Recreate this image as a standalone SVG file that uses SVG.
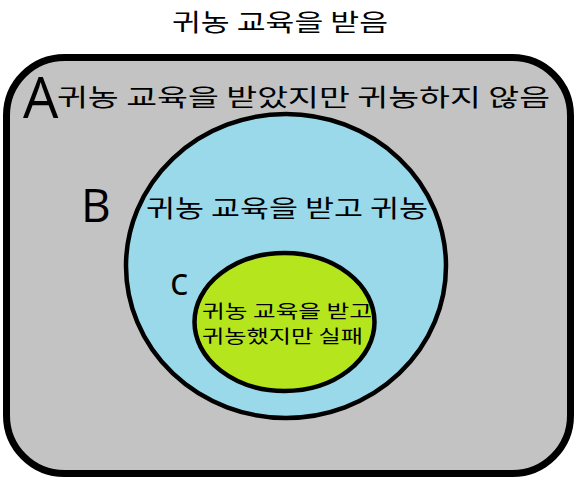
<svg xmlns="http://www.w3.org/2000/svg" width="578" height="481" viewBox="0 0 578 481">
<style>
.t{font-family:"Noto Sans CJK KR","Noto Sans",sans-serif;fill:#000}
.l{font-family:"Open Sans","DejaVu Sans",sans-serif;fill:#000}
.s{stroke:#000;stroke-width:4.5}
</style>
<rect width="578" height="481" fill="#fff"/>
<text class="t" x="280" y="31" font-size="24" text-anchor="middle" textLength="216" lengthAdjust="spacingAndGlyphs">귀농 교육을 받음</text>
<g id="A">
<rect x="6.5" y="57.5" width="564" height="416" rx="58" fill="#c3c3c3" stroke="#000" stroke-width="7"/>
<text class="l" x="23" y="118" font-size="56">A</text>
<text class="t" x="57" y="106" font-size="24" textLength="493" lengthAdjust="spacingAndGlyphs">귀농 교육을 받았지만 귀농하지 않음</text>
</g>
<g id="B">
<ellipse class="s" cx="286" cy="266" rx="160" ry="152" fill="#99d9ea"/>
<text class="l" x="81" y="222" font-size="46">B</text>
<text class="t" x="146" y="217" font-size="24" textLength="282" lengthAdjust="spacingAndGlyphs">귀농 교육을 받고 귀농</text>
</g>
<g id="C">
<ellipse class="s" cx="284.5" cy="322" rx="90" ry="69" fill="#b5e61d"/>
<text class="l" x="170" y="295" font-size="38">c</text>
<text class="t" x="202" y="318" font-size="18.5" textLength="170" lengthAdjust="spacingAndGlyphs">귀농 교육을 받고</text>
<text class="t" x="202" y="343" font-size="18.5" textLength="161" lengthAdjust="spacingAndGlyphs">귀농했지만 실패</text>
</g>
<g id="connectors"/>
</svg>
